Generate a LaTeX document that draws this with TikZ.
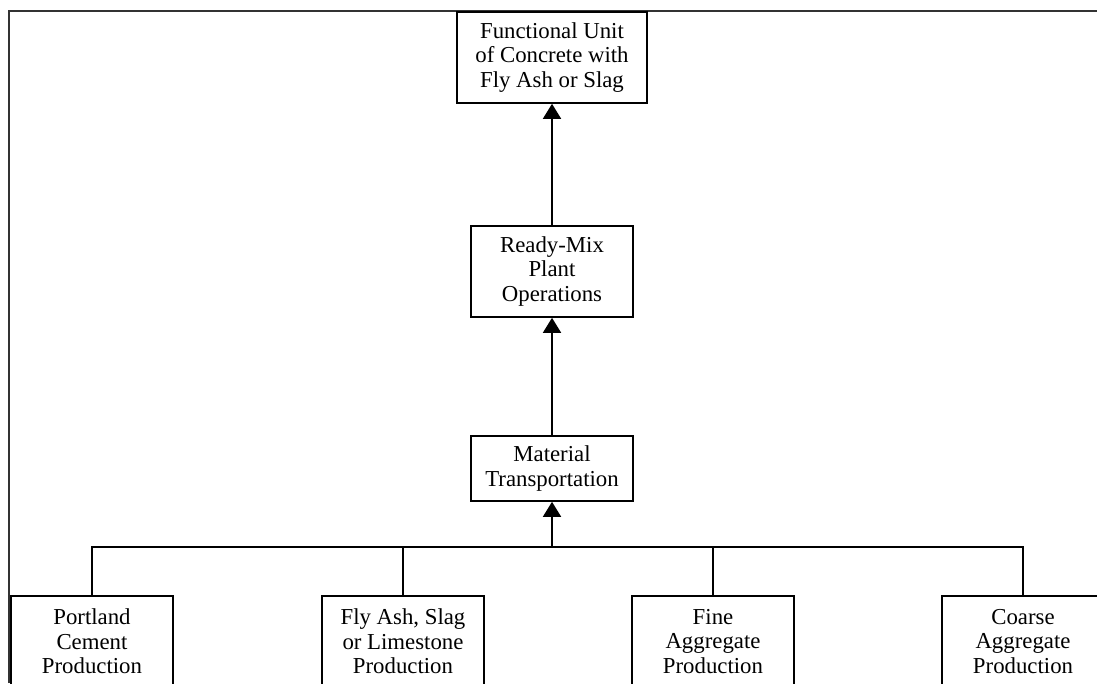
\documentclass[tikz,border=0pt]{standalone}
\usepackage{fontspec}
\setmainfont{Liberation Serif}
\usetikzlibrary{arrows.meta}
\begin{document}
\begin{tikzpicture}[x=1pt,y=-1pt,
  box/.style={draw=black,line width=1.6pt,fill=white,align=center,inner sep=0pt,
    minimum width=162pt,minimum height=91pt,
    font=\fontsize{22.8}{24.5}\selectfont},
  conn/.style={draw=black,line width=1.6pt},
  arr/.style={conn,-{Triangle[width=18pt,length=15pt]}}]
\useasboundingbox (0,0) rectangle (1097,683);
\begin{scope}
\clip (0,0) rectangle (1097,683);
\draw[line width=2pt,draw=black!80] (9,683) -- (9,11) -- (1100,11);
\node[box,minimum width=190pt] (fu) at (552,57.5) {Functional Unit\\of Concrete with\\Fly Ash or Slag};
\node[box] (rm) at (552,271.5) {Ready-Mix\\Plant\\Operations};
\node[box,minimum height=65pt] (mt) at (552,468.5) {Material\\Transportation};
\node[box] (pc) at (92,641.5) {Portland\\Cement\\Production};
\node[box] (fa) at (403,641.5) {Fly Ash, Slag\\or Limestone\\Production};
\node[box] (fi) at (713,641.5) {Fine\\Aggregate\\Production};
\node[box] (ca) at (1023,641.5) {Coarse\\Aggregate\\Production};
\coordinate (bus) at (552,547);
\draw[conn] (pc.north) |- (bus) -| (ca.north);
\draw[conn] (fa.north) -- (fa.north |- bus);
\draw[conn] (fi.north) -- (fi.north |- bus);
\draw[arr] (bus) -- (mt.south);
\draw[arr] (mt.north) -- (rm.south);
\draw[arr] (rm.north) -- (fu.south);
\end{scope}
\end{tikzpicture}
\end{document}
